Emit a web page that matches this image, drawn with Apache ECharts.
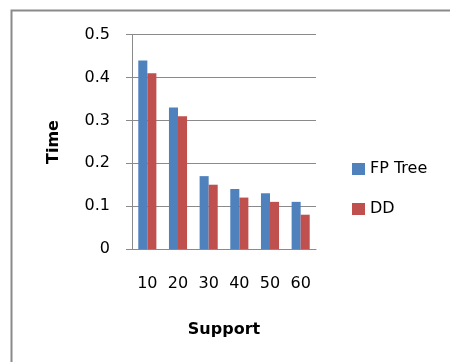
<!DOCTYPE html>
<html>
<head>
<meta charset="utf-8">
<script src="https://cdn.jsdelivr.net/npm/echarts@6/dist/echarts.min.js"></script>
<style>
  html, body { margin: 0; padding: 0; background: #fff; }
  #chart { width: 450px; height: 362px; }
</style>
</head>
<body>
<div id="chart"></div>
<script>
// Execution time per support threshold
const supports = ['10', '20', '30', '40', '50', '60'];
const fpTree = [0.44, 0.33, 0.17, 0.14, 0.13, 0.11];
const dd = [0.41, 0.31, 0.15, 0.12, 0.11, 0.08];

const FONT = '"DejaVu Sans", sans-serif';
const chart = echarts.init(document.getElementById('chart'));

chart.setOption({
  animation: false,
  backgroundColor: '#fff',
  textStyle: { fontFamily: FONT },
  graphic: [{
    type: 'polyline',
    shape: { points: [[11.5, 362], [11.5, 10.5], [450, 10.5]] },
    style: { fill: 'none', stroke: '#8a8a8a', lineWidth: 2 },
    silent: true,
    z: -1
  }, {
    type: 'text',
    x: 54,
    y: 142,
    rotation: Math.PI / 2,
    style: { text: 'Time', font: 'bold 16px ' + FONT, fill: '#000', textAlign: 'center', textVerticalAlign: 'middle' }
  }],
  grid: { left: 132, right: 134, top: 34.7, bottom: 113 },
  legend: {
    orient: 'vertical',
    left: 352,
    top: 161,
    padding: 0,
    icon: 'rect',
    itemWidth: 13,
    itemHeight: 12,
    itemGap: 24,
    textStyle: { fontSize: 16, color: '#000', fontFamily: FONT },
    data: ['FP Tree', 'DD']
  },
  xAxis: {
    type: 'category',
    data: supports,
    name: 'Support',
    nameLocation: 'middle',
    nameGap: 73,
    nameTextStyle: { fontSize: 16, fontWeight: 'bold', color: '#000', fontFamily: FONT },
    axisLine: { lineStyle: { color: '#8a8a8a', width: 1 } },
    axisTick: { length: 7, lineStyle: { color: '#8a8a8a' } },
    axisLabel: { fontSize: 16, color: '#000', margin: 27, fontFamily: FONT }
  },
  yAxis: {
    type: 'value',
    min: 0,
    max: 0.5,
    interval: 0.1,
    axisLine: { show: true, lineStyle: { color: '#8a8a8a', width: 1 } },
    axisTick: { show: true, length: 6, lineStyle: { color: '#8a8a8a' } },
    axisLabel: { fontSize: 16, color: '#000', margin: 22, fontFamily: FONT, formatter: v => (Math.round(v * 10) / 10).toString() },
    splitLine: { lineStyle: { color: '#8a8a8a', width: 1 } }
  },
  series: [{
    name: 'FP Tree',
    type: 'bar',
    data: fpTree,
    barGap: '0%',
    barCategoryGap: '41%',
    itemStyle: { color: '#4F81BD' }
  }, {
    name: 'DD',
    type: 'bar',
    data: dd,
    itemStyle: { color: '#C0504D' }
  }]
});
</script>
</body>
</html>
